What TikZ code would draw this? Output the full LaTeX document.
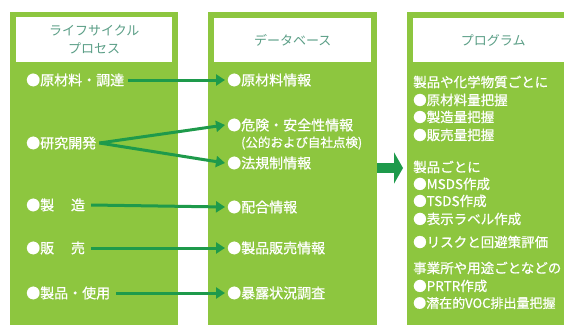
\documentclass[tikz,border=0pt]{standalone}
\usepackage{fontspec}
\setmainfont{Noto Sans CJK JP}
\newfontfamily\itemfont[FakeBold=0.7]{Noto Sans CJK JP}
\usetikzlibrary{arrows.meta}
\definecolor{panelgreen}{HTML}{8DC63F}
\definecolor{arrowgreen}{HTML}{1E9A4B}
\definecolor{headtext}{HTML}{5A9E86}
\tikzset{
  panel/.style={fill=panelgreen, draw=none, anchor=north west, inner sep=0pt},
  headbox/.style={fill=white, anchor=north west, inner sep=0pt, text=headtext, align=center, font=\fontsize{13pt}{18pt}\selectfont},
  item/.style={anchor=west, inner sep=0pt, text=white, font=\itemfont\fontsize{14pt}{16pt}\selectfont},
  ritem/.style={item, font=\itemfont\fontsize{13.5pt}{16pt}\selectfont},
  link/.style={draw=arrowgreen, line width=3pt, -{Triangle[length=9pt,width=11pt]}},
  bigarrow/.style={draw=arrowgreen, line width=10pt, -{Triangle[length=9pt,width=31pt]}}
}
\begin{document}
\begin{tikzpicture}[x=1pt,y=-1pt]
\useasboundingbox (0,0) rectangle (564,324);
\clip (0,0) rectangle (564,324);
\fill[white] (0,0) rectangle (564,324);
% panels
\node[panel, minimum width=168pt, minimum height=320pt] (lp) at (10,12) {};
\node[panel, minimum width=169pt, minimum height=320pt] (mp) at (208,12) {};
\node[panel, minimum width=165pt, minimum height=320pt] (rp) at (407,12) {};
% headers
\node[headbox, minimum width=156pt, minimum height=45pt] (lh) at (16,17) {ライフサイクル\\プロセス};
\node[headbox, minimum width=157pt, minimum height=44pt] (mh) at (214,18) {データベース};
\node[headbox, minimum width=160pt, minimum height=44pt] (rh) at (413,18) {プログラム};
% left items
\node[item] (l1) at (26,80) {●原材料・調達};
\node[item] (l2) at (26,143) {●研究開発};
\node[item] (l3) at (26,205) {●製\hspace{1.2em}造};
\node[item] (l4) at (26,248) {●販\hspace{1.2em}売};
\node[item] (l5) at (26,293) {●製品・使用};
% middle items
\node[item] (m1) at (227,80) {●原材料情報};
\node[item] (m2) at (227,125) {●危険・安全性情報};
\node[item, font=\itemfont\fontsize{12.5pt}{14pt}\selectfont] (m2b) at (241,143) {(公的および自社点検)};
\node[item] (m3) at (227,163) {●法規制情報};
\node[item] (m4) at (227,207) {●配合情報};
\node[item] (m5) at (227,248) {●製品販売情報};
\node[item] (m6) at (227,293) {●暴露状況調査};
% right items
\node[ritem] (r1) at (413,82) {製品や化学物質ごとに};
\node[ritem] (r2) at (413,100) {●原材料量把握};
\node[ritem] (r3) at (413,117) {●製造量把握};
\node[ritem] (r4) at (413,135) {●販売量把握};
\node[ritem] (r5) at (413,167) {製品ごとに};
\node[ritem] (r6) at (413,184) {●MSDS作成};
\node[ritem] (r7) at (413,201) {●TSDS作成};
\node[ritem] (r8) at (413,219) {●表示ラベル作成};
\node[ritem] (r9) at (413,242) {●リスクと回避策評価};
\node[ritem] (r10) at (413,268) {事業所や用途ごとなどの};
\node[ritem] (r11) at (413,286) {●PRTR作成};
\node[ritem, font=\itemfont\fontsize{13pt}{16pt}\selectfont] (r12) at (413,303) {●潜在的VOC排出量把握};
% links
\draw[link] ([xshift=4pt]l1.east) -- ([xshift=-2pt]m1.west);
\draw[link] ([xshift=3pt]l2.east) -- ([xshift=-2pt]m2.west);
\draw[link] ([xshift=3pt]l2.east) -- ([xshift=-2pt]m3.west);
\draw[link] ([xshift=6pt]l3.east) -- ([xshift=-2pt]m4.west);
\draw[link] ([xshift=6pt]l4.east) -- ([xshift=-2pt]m5.west);
\draw[link] ([xshift=6pt]l5.east) -- ([xshift=-2pt]m6.west);
% big arrow
\draw[bigarrow, shorten >=4pt] (mp.east |- 0,168) -- (rp.west |- 0,168);
\end{tikzpicture}
\end{document}
